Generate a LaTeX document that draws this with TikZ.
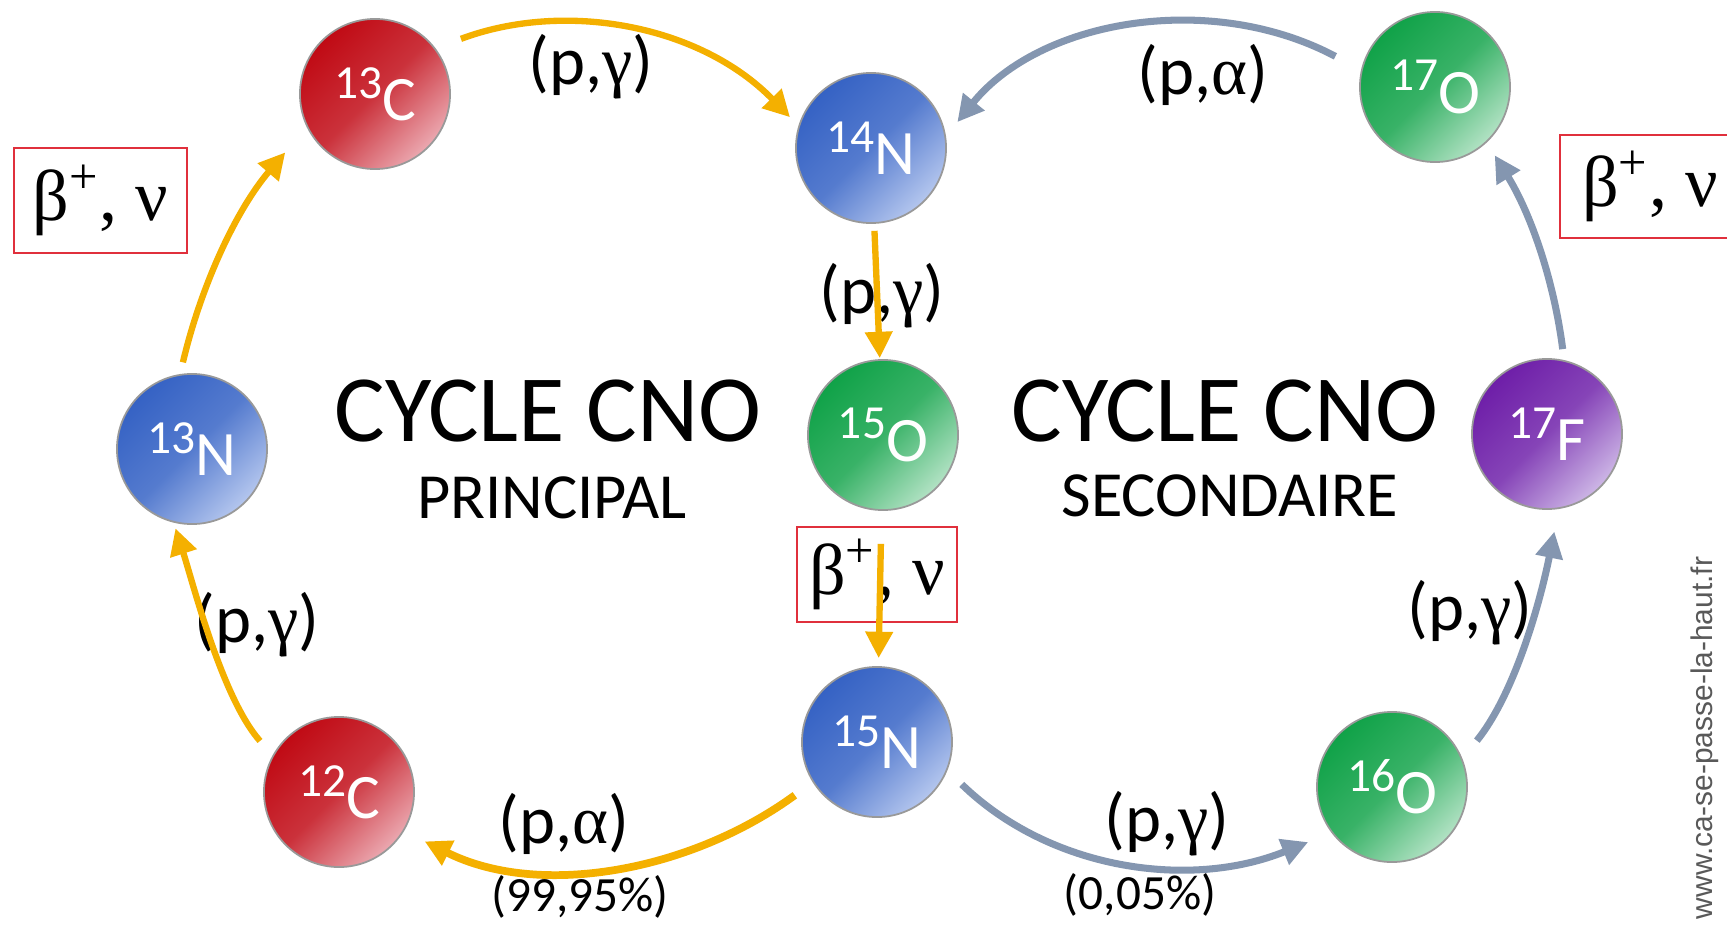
\documentclass[tikz,border=0pt]{standalone}
\usepackage{fontspec}
\setmainfont{Carlito}
\newfontfamily\grk{Liberation Serif}
\newfontfamily\wmfont{Liberation Sans}
\usetikzlibrary{arrows.meta}
\definecolor{cnoyellow}{HTML}{F4B000}
\definecolor{cnogray}{HTML}{8496B0}
\definecolor{boxred}{HTML}{E0303C}
\definecolor{rdark}{HTML}{C00A14}
\definecolor{rlight}{HTML}{EBA8B0}
\definecolor{bdark}{HTML}{3562C4}
\definecolor{blight}{HTML}{B4C6EE}
\definecolor{gdark}{HTML}{10A248}
\definecolor{glight}{HTML}{B2E2C4}
\definecolor{pdark}{HTML}{6E1EA8}
\definecolor{plight}{HTML}{CDB6E6}
\newcommand{\rpg}{(p,{\grk γ})}
\newcommand{\rpa}{(p,{\grk α})}
\newcommand{\bnu}{{\grk β\textsuperscript{+}, ν}}
\newcommand{\iso}[2]{{\fontsize{13.5}{14}\selectfont\raisebox{6.3pt}{#1}}#2}
\begin{document}
\begin{tikzpicture}[x=0.01cm,y=-0.01cm,
  atom/.style={circle, minimum size=1.5cm, inner sep=0pt, draw=black!40, line width=0.5pt,
    text=white, font=\fontsize{18}{20}\selectfont},
  redatom/.style={atom, left color=rdark, right color=rlight, middle color=rdark!75!rlight, shading angle=45},
  blueatom/.style={atom, left color=bdark, right color=blight, middle color=bdark!75!blight, shading angle=45},
  greenatom/.style={atom, left color=gdark, right color=glight, middle color=gdark!75!glight, shading angle=45},
  purpleatom/.style={atom, left color=pdark, right color=plight, middle color=pdark!75!plight, shading angle=45},
  decaybox/.style={draw=boxred, line width=0.8pt, inner sep=0pt, font=\grk\fontsize{20.5}{22}\selectfont},
  reaclabel/.style={font=\fontsize{19.5}{22}\selectfont, inner sep=0pt},
  pctlabel/.style={font=\fontsize{14}{16}\selectfont, inner sep=0pt},
  titlelabel/.style={font=\fontsize{27}{30}\selectfont, inner sep=0pt, anchor=base},
  sublabel/.style={font=\fontsize{18.3}{20}\selectfont, inner sep=0pt, anchor=base},
  yarr/.style={draw=cnoyellow, line width=1.8pt, -{Triangle[length=7.5pt,width=7.5pt]}},
  garr/.style={draw=cnogray, line width=2pt, -{Triangle[length=7.5pt,width=7.5pt]}}
]
\useasboundingbox[fill=white] (0,0) rectangle (1727,924);

% atoms
\node[redatom]    (c13) at (375,94)   {\iso{13}{C}};
\node[blueatom]   (n14) at (871,148)  {\iso{14}{N}};
\node[greenatom]  (o17) at (1435,87)  {\iso{17}{O}};
\node[blueatom]   (n13) at (192,449)  {\iso{13}{N}};
\node[greenatom]  (o15) at (883,435)  {\iso{15}{O}};
\node[purpleatom] (f17) at (1547,434) {\iso{17}{F}};
\node[redatom]    (c12) at (339,792)  {\iso{12}{C}};
\node[blueatom]   (n15) at (877,742)  {\iso{15}{N}};
\node[greenatom]  (o16) at (1392,787) {\iso{16}{O}};

% decay boxes
\node[decaybox, minimum width=1.73cm, minimum height=1.05cm] (bleft) at (100.5,200.5) {\bnu};
\node[decaybox, minimum width=1.60cm, minimum height=0.95cm] (bmid) at (877,574.5) {\bnu};
\node[decaybox, minimum width=1.80cm, minimum height=1.03cm] (bright) at (1650,186.5) {\bnu};

% titles
\node[titlelabel] (t1) at (548,441) {CYCLE CNO};
\node[sublabel] (s1) at (552,518) {PRINCIPAL};
\node[titlelabel] (t2) at (1225,441) {CYCLE CNO};
\node[sublabel] (s2) at (1230,516) {SECONDAIRE};

% reaction labels
\node[reaclabel] (l1) at (591,67) {\rpg};
\node[reaclabel] (l2) at (1203,75) {\rpa};
\node[reaclabel] (l3) at (882,296) {\rpg};
\node[reaclabel] (l4) at (257,625) {\rpg};
\node[reaclabel] (l5) at (564,824) {\rpa};
\node[pctlabel]  (p5) at (580,897) {(99,95\%)};
\node[reaclabel] (l6) at (1167,824) {\rpg};
\node[pctlabel]  (p6) at (1140,895) {(0,05\%)};
\node[reaclabel] (l7) at (1470,613) {\rpg};

% watermark
\node[rotate=90, text=black!65, font=\wmfont\fontsize{8.5}{10}\selectfont, inner sep=0pt] (wm) at (1705,738) {www.ca-se-passe-la-haut.fr};

% main cycle arrows
\draw[yarr, shorten <=0.12cm, shorten >=0.33cm] (n13.99) .. controls (201,286) and (236,210) .. (c13.206);
\draw[yarr, shorten <=0.27cm, shorten >=0.12cm] (c13.37) .. controls (565,0) and (700,25) .. (n14.163);
\draw[yarr, shorten <=0.07cm, shorten >=0.01cm] (n14) -- (o15);
\draw[yarr, shorten <=0.33cm, shorten >=0.08cm] (o15) -- (n15);
\draw[yarr, line width=2.2pt, shorten <=0.22cm, shorten >=0.23cm] (n15.212) .. controls (691,871) and (540,899) .. (c12.329);
\draw[yarr, shorten <=0.19cm, shorten >=0.06cm] (c12.151) .. controls (222,698) and (193,583) .. (n13.256);

% secondary cycle arrows
\draw[garr, shorten <=0.20cm, shorten >=0.25cm] (n15.338) .. controls (1050,870) and (1190,890) .. (o16.217);
\draw[garr, shorten <=0.23cm, shorten >=0.23cm] (o16.22) .. controls (1516,692) and (1541,598) .. (f17.279);
\draw[garr, shorten <=0.11cm, shorten >=0.15cm] (f17.77) .. controls (1554,281) and (1531,214) .. (o17.313);
\draw[garr, shorten <=0.29cm, shorten >=0.18cm] (o17.167) .. controls (1210,-10) and (1040,20) .. (n14.9);
\end{tikzpicture}
\end{document}
